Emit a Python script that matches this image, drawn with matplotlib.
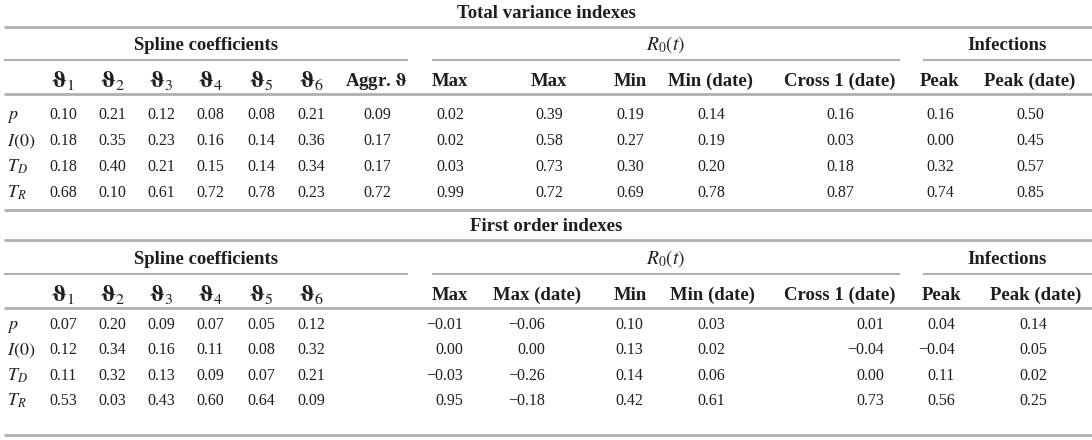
import matplotlib.pyplot as plt

params = ['$p$', '$I(0)$', '$T_D$', '$T_R$']
theta_cols = [r'$\boldsymbol{\vartheta}_1$', r'$\boldsymbol{\vartheta}_2$',
              r'$\boldsymbol{\vartheta}_3$', r'$\boldsymbol{\vartheta}_4$',
              r'$\boldsymbol{\vartheta}_5$', r'$\boldsymbol{\vartheta}_6$']

# Total variance indexes
tv_spline = [[0.10, 0.21, 0.12, 0.08, 0.08, 0.21, 0.09],
             [0.18, 0.35, 0.23, 0.16, 0.14, 0.36, 0.17],
             [0.18, 0.40, 0.21, 0.15, 0.14, 0.34, 0.17],
             [0.68, 0.10, 0.61, 0.72, 0.78, 0.23, 0.72]]
tv_r0 = [[0.02, 0.39, 0.19, 0.14, 0.16],
         [0.02, 0.58, 0.27, 0.19, 0.03],
         [0.03, 0.73, 0.30, 0.20, 0.18],
         [0.99, 0.72, 0.69, 0.78, 0.87]]
tv_inf = [[0.16, 0.50],
          [0.00, 0.45],
          [0.32, 0.57],
          [0.74, 0.85]]

# First order indexes
fo_spline = [[0.07, 0.20, 0.09, 0.07, 0.05, 0.12],
             [0.12, 0.34, 0.16, 0.11, 0.08, 0.32],
             [0.11, 0.32, 0.13, 0.09, 0.07, 0.21],
             [0.53, 0.03, 0.43, 0.60, 0.64, 0.09]]
fo_r0 = [[-0.01, -0.06, 0.10, 0.03, 0.01],
         [0.00, 0.00, 0.13, 0.02, -0.04],
         [-0.03, -0.26, 0.14, 0.06, 0.00],
         [0.95, -0.18, 0.42, 0.61, 0.73]]
fo_inf = [[0.04, 0.14],
          [-0.04, 0.05],
          [0.11, 0.02],
          [0.56, 0.25]]

tv_r0_cols = ['Max', 'Max', 'Min', 'Min (date)', 'Cross 1 (date)']
fo_r0_cols = ['Max', 'Max (date)', 'Min', 'Min (date)', 'Cross 1 (date)']
inf_cols = ['Peak', 'Peak (date)']

plt.rcParams['font.family'] = ['Liberation Serif', 'DejaVu Serif']
plt.rcParams['mathtext.fontset'] = 'stix'

fig = plt.figure(figsize=(10.92, 4.40), dpi=100)
ax = fig.add_axes([0, 0, 1, 1])
ax.set_xlim(0, 1092)
ax.set_ylim(440, 0)
ax.axis('off')

fs = 11.5     # cell text
hfs = 13.5    # bold headers
txt = '#1e1e1e'
rule = '#b0b0b0'

theta_x = [63, 112, 161, 210, 261, 311]
aggr_x = 377
tv_r0_x = [450, 549, 630, 711, 840]
tv_inf_x = [940, 1030]
fo_r0_hx = [450, 537, 630, 712, 840]
fo_inf_hx = [942, 1036]
fo_r0_rx = [463, 545, 643, 725, 884]
fo_inf_rx = [955, 1047]


def hline(y, x0=4, x1=1092, lw=2.0):
    ax.plot([x0, x1], [y, y], color=rule, lw=lw, solid_capstyle='butt')


def fmt(v):
    s = f'{abs(v):.2f}'
    return ('\u2212' + s) if v < 0 else s


def put(x, y, s, size=fs, ha='center', bold=False):
    # y is the visual middle of the text line, baseline sits a bit lower
    ax.text(x, y + size * 0.42, s, ha=ha, va='baseline', fontsize=size,
            fontweight='bold' if bold else 'normal', color=txt)


def section(ys, title, spline, r0, inf, r0_cols, first_order):
    t_y, g_y, h_y, rows_y = ys
    put(546, t_y, title, hfs, bold=True)
    hline(t_y + 15)
    put(206, g_y, 'Spline coefficients', hfs, bold=True)
    put(666, g_y, '$R_0(t)$', hfs + 0.5)
    put(1007, g_y, 'Infections', hfs, bold=True)
    hline(g_y + 16, 4, 408, 1.5)
    hline(g_y + 16, 432, 900, 1.5)
    hline(g_y + 16, 923, 1092, 1.5)

    for x, c in zip(theta_x, theta_cols):
        put(x, h_y, c, hfs + 3)
    if not first_order:
        put(aggr_x, h_y, r'Aggr. $\boldsymbol{\vartheta}$', hfs, bold=True)
    hx = fo_r0_hx if first_order else tv_r0_x
    ix = fo_inf_hx if first_order else tv_inf_x
    for x, c in zip(hx, r0_cols):
        put(x, h_y, c, hfs, bold=True)
    for x, c in zip(ix, inf_cols):
        put(x, h_y, c, hfs, bold=True)
    hline(h_y + 14)

    for i, y in enumerate(rows_y):
        put(7, y, params[i], fs + 1.5, ha='left')
        sx = theta_x + ([] if first_order else [aggr_x])
        for x, v in zip(sx, spline[i]):
            put(x, y, fmt(v))
        if first_order:
            # negative numbers: decimal points line up on the right edge
            for x, v in zip(fo_r0_rx, r0[i]):
                put(x, y, fmt(v), ha='right')
            for x, v in zip(fo_inf_rx, inf[i]):
                put(x, y, fmt(v), ha='right')
        else:
            for x, v in zip(tv_r0_x, r0[i]):
                put(x, y, fmt(v))
            for x, v in zip(tv_inf_x, inf[i]):
                put(x, y, fmt(v))


section((12, 44, 80, [114, 140, 166, 192]), 'Total variance indexes',
        tv_spline, tv_r0, tv_inf, tv_r0_cols, False)
hline(210)
section((225, 258, 294, [324, 349, 375, 400]), 'First order indexes',
        fo_spline, fo_r0, fo_inf, fo_r0_cols, True)
hline(435)

fig.savefig('out.png', dpi=100)
